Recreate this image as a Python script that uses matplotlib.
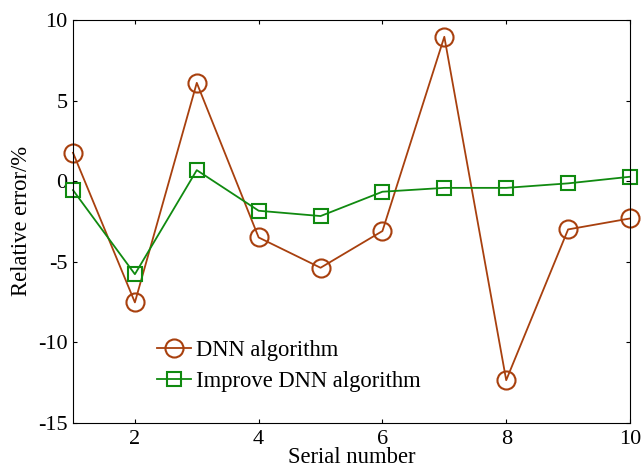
import matplotlib
matplotlib.use('Agg')
import matplotlib.pyplot as plt

# ----- data ----- #
serial = [1, 2, 3, 4, 5, 6, 7, 8, 9, 10]
dnn_error = [1.76, -7.53, 6.1, -3.5, -5.38, -3.1, 8.96, -12.36, -3.0, -2.32]
improve_error = [-0.56, -5.78, 0.68, -1.84, -2.17, -0.66, -0.42, -0.42, -0.14, 0.27]
x_ticks = [2, 4, 6, 8, 10]
y_ticks = [-15, -10, -5, 0, 5, 10]

plt.rcParams['font.family'] = ['Liberation Serif', 'DejaVu Serif']
plt.rcParams['axes.unicode_minus'] = False

fig = plt.figure(figsize=(6.41, 4.70), dpi=100)
ax = fig.add_axes([0.1139, 0.1006, 0.8689, 0.8568])

ax.plot(serial, dnn_error, '-o', color='#A8400E', lw=1.3, ms=13, mfc='none', mew=1.5,
        label='DNN algorithm', clip_on=False)
ax.plot(serial, improve_error, '-s', color='#108A10', lw=1.3, ms=10, mfc='none', mew=1.5,
        label='Improve DNN algorithm', clip_on=False)

ax.set_xlim(1, 10)
ax.set_ylim(-15, 10)
ax.set_xticks(x_ticks)
ax.set_yticks(y_ticks)
ax.tick_params(direction='in', top=True, right=True, labelsize=16, length=3)
ax.tick_params(axis='y', pad=4)
ax.tick_params(axis='x', pad=5)
ax.set_xlabel('Serial number', fontsize=16.3, labelpad=-1)
ax.set_ylabel('Relative error/%', fontsize=16.3, labelpad=4)

ax.legend(loc='upper left', bbox_to_anchor=(0.151, 0.205), frameon=False, fontsize=16.3,
          borderpad=0, handlelength=1.5, handletextpad=0.2, labelspacing=0.45,
          borderaxespad=0)

fig.savefig('out.png', dpi=100)
